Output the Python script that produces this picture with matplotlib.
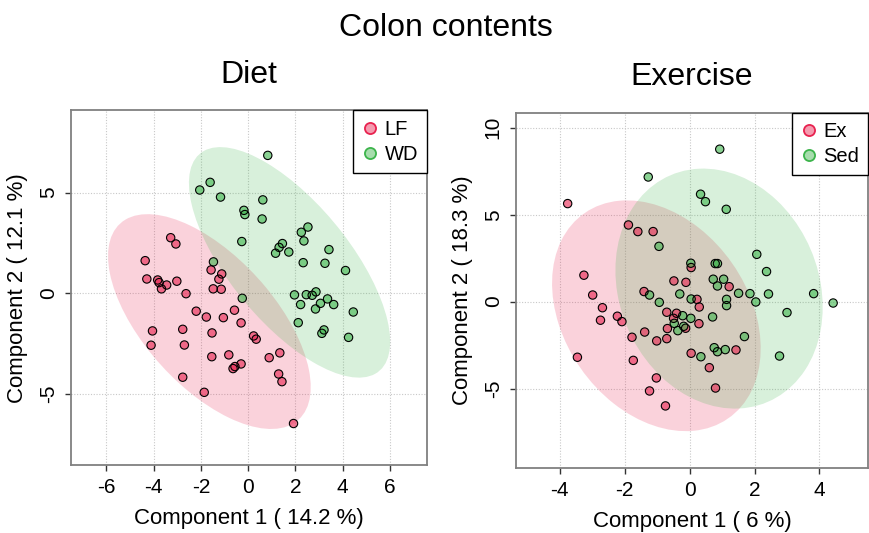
import numpy as np
import matplotlib
matplotlib.use('Agg')
import matplotlib.pyplot as plt
from matplotlib.patches import Ellipse
from matplotlib.lines import Line2D

plt.rcParams['font.family'] = ['Liberation Sans', 'DejaVu Sans']
plt.rcParams['axes.unicode_minus'] = False

suptitle = "Colon contents"

# ---- Diet panel data ----
diet_title = "Diet"
diet_xlabel = "Component 1 ( 14.2 %)"
diet_ylabel = "Component 2 ( 12.1 %)"
diet_groups = ["LF", "WD"]
lf_x = [-3.28, -3.06, -4.36, -4.29, -3.83, -3.77, -3.67, -3.45, -3.02, -2.63,
        -1.57, -1.12, -1.24, -1.48, -1.14, -2.20, -1.77, -1.05, -0.58, -0.30,
        -4.05, -4.11, -2.77, -2.70, -1.53, 0.23, 0.34, 0.89, 1.34, -1.54,
        -0.82, -0.30, -0.56, -0.64, -2.77, -1.86, 1.29, 1.43, 1.92]
lf_y = [2.76, 2.45, 1.62, 0.71, 0.66, 0.53, 0.22, 0.41, 0.60, -0.02,
        1.16, 0.96, 0.70, 0.22, 0.20, -0.89, -1.18, -1.21, -0.84, -1.47,
        -1.87, -2.58, -1.79, -2.57, -1.97, -2.12, -2.28, -3.20, -2.96, -3.15,
        -3.06, -3.51, -3.64, -3.74, -4.17, -4.92, -4.01, -4.39, -6.47]
wd_x = [0.83, -1.61, -2.05, -1.17, 0.62, -0.18, -0.14, 0.59, -0.27, 2.25,
        2.53, 2.36, 1.45, 1.31, 1.16, 1.72, 3.42, 2.33, 3.25, 4.12,
        -1.47, -0.25, 1.96, 2.46, 2.71, 2.87, 2.22, 3.06, 3.36, 3.62,
        2.85, 4.45, 2.12, 3.21, 3.12, 4.25]
wd_y = [6.85, 5.51, 5.13, 4.78, 4.64, 4.12, 3.91, 3.69, 2.57, 3.03,
        3.29, 2.60, 2.47, 2.28, 1.99, 2.05, 2.17, 1.52, 1.49, 1.13,
        1.56, -0.25, -0.08, -0.07, -0.10, 0.07, -0.56, -0.50, -0.28, -0.56,
        -0.78, -0.93, -1.46, -1.82, -1.99, -2.19]
diet_xticks = [-6, -4, -2, 0, 2, 4, 6]
diet_yticks = [-5, 0, 5]

# ---- Exercise panel data ----
ex_title = "Exercise"
ex_xlabel = "Component 1 ( 6 %)"
ex_ylabel = "Component 2 ( 18.3 %)"
ex_groups = ["Ex", "Sed"]
exg_x = [-3.75, -1.88, -1.59, -1.12, -3.25, -2.98, -2.68, -2.74, -2.22, -2.08,
         -1.77, -1.38, -3.45, -1.73, -1.40, -0.48, -0.11, 0.05, 0.23, 0.30,
         0.29, -0.70, -0.40, -0.49, -0.68, -0.70, -1.01, -0.12, 0.05, 0.61,
         -1.02, -1.23, -0.74, 0.80, 1.43, 1.22]
exg_y = [5.64, 4.41, 4.03, 4.03, 1.52, 0.38, -0.35, -1.07, -0.84, -1.15,
         -2.05, -1.75, -3.20, -3.38, 0.58, 1.19, 1.11, 1.96, 0.13, -0.31,
         -1.27, -0.61, -0.67, -0.96, -1.55, -2.13, -2.26, -1.53, -2.97, -3.80,
         -4.39, -5.14, -6.00, -4.97, -2.78, 0.86]
sed_x = [0.93, -1.27, 0.34, 0.49, 1.13, -0.94, 2.07, 0.04, 0.79, 0.86,
         2.37, 0.73, 1.05, 0.86, -1.23, -0.30, -0.93, 0.05, 1.14, 1.14,
         1.51, 1.86, 2.43, 2.04, 3.82, 4.42, 3.00, -0.21, 0.04, 0.71,
         -0.47, -0.18, -0.36, 1.69, 0.76, 0.86, 1.10, 0.35, 2.77]
sed_y = [8.77, 7.17, 6.18, 5.75, 5.31, 3.18, 2.72, 2.21, 2.19, 2.19,
         1.73, 1.29, 1.29, 0.90, 0.38, 0.44, -0.04, 0.15, 0.13, -0.23,
         0.48, 0.46, 0.44, -0.02, 0.46, -0.08, -0.63, -0.81, -0.96, -0.88,
         -1.25, -1.42, -1.67, -2.01, -2.65, -2.88, -2.76, -3.17, -3.13]
ex_xticks = [-4, -2, 0, 2, 4]
ex_yticks = [-5, 0, 5, 10]

RED = '#E8224F'
GREEN = '#3CB44B'


def conf_ellipse(ax, x, y, color, level=0.95):
    pts = np.column_stack([x, y])
    mu = pts.mean(axis=0)
    cov = np.cov(pts, rowvar=False)
    vals, vecs = np.linalg.eigh(cov)
    t = np.sqrt(-2 * np.log(1 - level))
    order = vals.argsort()[::-1]
    vals, vecs = vals[order], vecs[:, order]
    angle = np.degrees(np.arctan2(vecs[1, 0], vecs[0, 0]))
    e = Ellipse(mu, 2 * t * np.sqrt(vals[0]), 2 * t * np.sqrt(vals[1]),
                angle=angle, facecolor=color, alpha=0.2, edgecolor='none',
                zorder=1)
    ax.add_patch(e)


def panel(ax, groups, data, colors, xticks, yticks, xlim, ylim,
          title, xlabel, ylabel):
    for (x, y), c in zip(data, colors):
        conf_ellipse(ax, x, y, c)
    for (x, y), c in zip(data, colors):
        ax.scatter(x, y, s=36, facecolor=c, alpha=0.6, edgecolor='none',
                   zorder=3)
        ax.scatter(x, y, s=36, facecolor='none', edgecolor='black',
                   linewidth=0.8, zorder=4)
    ax.set_xlim(*xlim)
    ax.set_ylim(*ylim)
    ax.set_xticks(xticks)
    ax.set_yticks(yticks)
    ax.grid(True, linestyle=(0, (1, 1.5)), color='#C8C8C8', linewidth=0.8,
            zorder=0)
    ax.set_axisbelow(True)
    for s in ax.spines.values():
        s.set_color('#808080')
        s.set_linewidth(1.3)
    ax.tick_params(axis='both', length=4.5, width=1, color='#333333',
                   labelsize=15, pad=5)
    ax.tick_params(axis='y', labelrotation=90)
    for lbl in ax.get_yticklabels():
        lbl.set_va('center')
    ax.set_title(title, fontsize=23, pad=20)
    ax.set_xlabel(xlabel, fontsize=16, labelpad=8)
    ax.set_ylabel(ylabel, fontsize=16, labelpad=8)
    handles = [Line2D([], [], marker='o', linestyle='none', markersize=8,
                      markerfacecolor=matplotlib.colors.to_rgba(c, 0.45),
                      markeredgecolor=c, markeredgewidth=1.3)
               for c in colors]
    leg = ax.legend(handles, groups, loc='upper right', borderaxespad=0,
                    fontsize=14.5, frameon=True, fancybox=False,
                    edgecolor='black', framealpha=1, handletextpad=0.3,
                    labelspacing=0.3, borderpad=0.45, handlelength=0.8)
    leg.get_frame().set_linewidth(1.0)
    leg.set_zorder(5)


fig = plt.figure(figsize=(8.7, 5.33), dpi=100)
ax1 = fig.add_axes([0.0816, 0.1276, 0.4092, 0.6651])
ax2 = fig.add_axes([0.5931, 0.1220, 0.4045, 0.6666])

panel(ax1, diet_groups, [(lf_x, lf_y), (wd_x, wd_y)], [RED, GREEN],
      diet_xticks, diet_yticks, (-7.5, 7.57), (-8.53, 9.08),
      diet_title, diet_xlabel, diet_ylabel)
panel(ax2, ex_groups, [(exg_x, exg_y), (sed_x, sed_y)], [RED, GREEN],
      ex_xticks, ex_yticks, (-5.34, 5.49), (-9.57, 10.87),
      ex_title, ex_xlabel, ex_ylabel)

fig.suptitle(suptitle, fontsize=23, x=0.512, y=0.947, va='center')
fig.savefig('out.png', dpi=100)
